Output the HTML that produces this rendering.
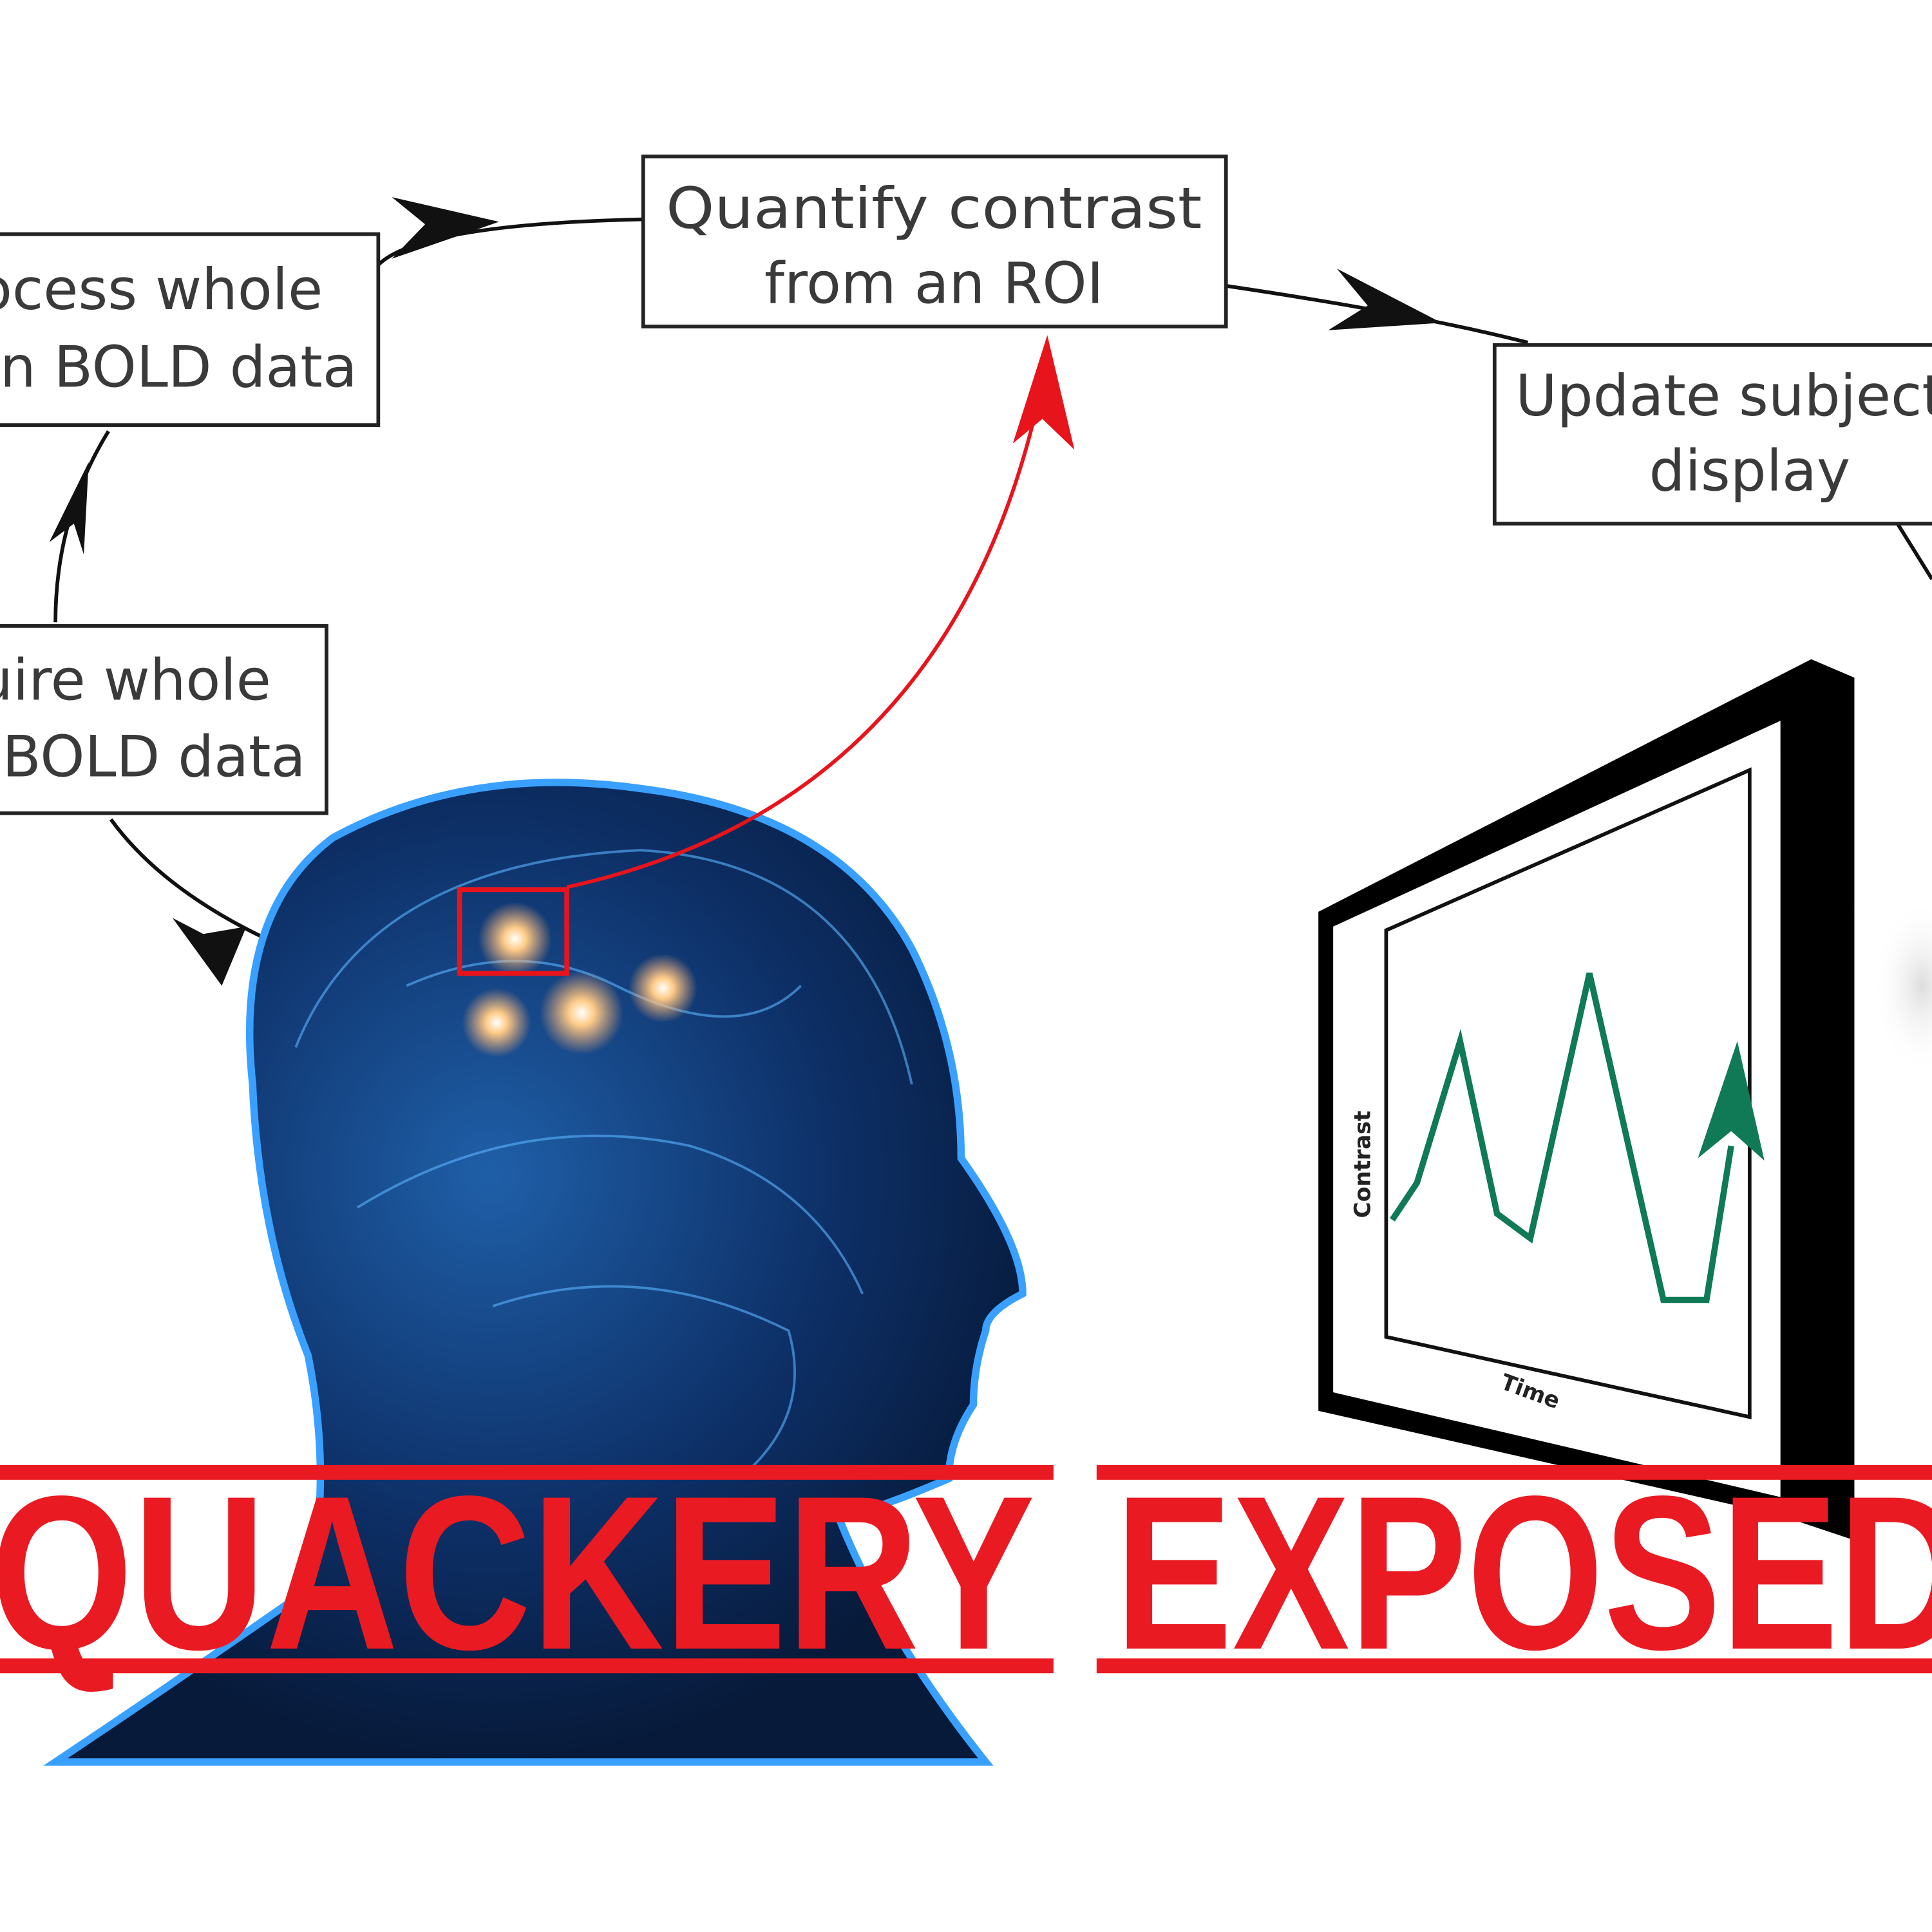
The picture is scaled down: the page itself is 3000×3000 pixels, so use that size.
<!DOCTYPE html>
<html><head><meta charset="utf-8"><style>
html,body{margin:0;padding:0;background:#fff;}
svg{display:block;}
text{font-family:"DejaVu Sans","Liberation Sans",sans-serif;}
</style></head><body>
<svg width="3000" height="3000" viewBox="0 0 1568 1568" xmlns="http://www.w3.org/2000/svg">
<defs>
<radialGradient id="hg" cx="0.45" cy="0.4" r="0.6">
<stop offset="0" stop-color="#1f5fa8"/><stop offset="0.6" stop-color="#0d2f66"/><stop offset="1" stop-color="#071a3a"/>
</radialGradient>
<radialGradient id="glow"><stop offset="0" stop-color="#fff"/><stop offset="0.3" stop-color="#ffcc88"/><stop offset="1" stop-color="#ffaa66" stop-opacity="0"/></radialGradient>
<radialGradient id="blob"><stop offset="0" stop-color="#ddd"/><stop offset="1" stop-color="#fff" stop-opacity="0"/></radialGradient>
</defs>
<rect width="1568" height="1568" fill="#fff"/>
<ellipse cx="1560" cy="800" rx="40" ry="70" fill="url(#blob)"/>

<!-- connectors -->
<g stroke="#111" stroke-width="3" fill="none">
<path d="M307,215 Q340,182 522,178"/>
<path d="M995,232 Q1150,255 1240,278"/>
<path d="M45,505 Q45,420 88,350"/>
<path d="M212,760 Q130,720 90,665"/>
<path d="M1540,425 L1568,470"/>
</g>
<g fill="#111">
<polygon points="405,180 318,160 345,182 318,210"/>
<polygon points="1170,262 1085,218 1110,248 1078,268"/>
<polygon points="72,375 40,440 60,425 68,450"/>
<polygon points="180,800 140,745 165,758 200,752"/>
</g>

<!-- boxes -->
<g fill="#fff" stroke="#222" stroke-width="3">
<rect x="-5" y="190" width="312" height="155"/>
<rect x="522" y="127" width="473" height="138"/>
<rect x="1213" y="280" width="370" height="145"/>
<rect x="-5" y="508" width="270" height="152"/>
</g>
<g fill="#3a3a3a" font-size="46">
<text x="758" y="185" text-anchor="middle" textLength="435" lengthAdjust="spacingAndGlyphs">Quantify contrast</text>
<text x="758" y="246" text-anchor="middle">from an ROI</text>
<text x="1230" y="337">Update subject</text>
<text x="1420" y="398" text-anchor="middle">display</text>
<text x="262" y="251" text-anchor="end">Process whole</text>
<text x="290" y="314" text-anchor="end">brain BOLD data</text>
<text x="220" y="568" text-anchor="end">Acquire whole</text>
<text x="248" y="630" text-anchor="end">brain BOLD data</text>
</g>
<rect x="-100" y="190" width="95" height="160" fill="#fff"/>
<rect x="-100" y="500" width="95" height="170" fill="#fff"/>

<!-- head -->
<path d="M205,880 Q190,740 270,680 Q380,620 520,640 Q680,660 740,770 Q780,850 780,940 Q830,1010 830,1050 Q800,1065 800,1080 Q790,1110 790,1140 Q770,1170 770,1200 Q700,1230 680,1230 Q720,1330 800,1430 L45,1430 Q150,1360 250,1290 Q270,1200 250,1100 Q210,1000 205,880 Z" fill="url(#hg)" stroke="#3aa0ff" stroke-width="6"/>
<g fill="none" stroke="#5ab4ff" stroke-width="2" opacity="0.6">
<path d="M240,850 Q300,700 520,690 Q700,700 740,880"/>
<path d="M290,980 Q420,900 560,930 Q660,960 700,1050"/>
<path d="M400,1060 Q520,1020 640,1080 Q660,1150 600,1200"/>
<path d="M330,800 Q420,760 500,800 Q600,850 650,800"/>
</g>
<circle cx="418" cy="762" r="30" fill="url(#glow)"/>
<circle cx="472" cy="822" r="34" fill="url(#glow)"/>
<circle cx="538" cy="802" r="28" fill="url(#glow)"/>
<circle cx="403" cy="830" r="28" fill="url(#glow)"/>
<rect x="373" y="722" width="87" height="68" fill="none" stroke="#e8141c" stroke-width="4"/>
<path d="M460,720 Q780,650 848,300" stroke="#e8141c" stroke-width="3" fill="none"/>
<polygon points="850,272 822,360 846,340 872,365" fill="#e8141c"/>

<!-- monitor -->
<polygon points="1070,740 1470,535 1505,550 1505,1250 1445,1230 1070,1145" fill="#000"/>
<polygon points="1082,752 1445,585 1445,1215 1082,1130" fill="#fff"/>
<polygon points="1125,755 1420,625 1420,1150 1125,1085" fill="#fff" stroke="#111" stroke-width="3"/>
<polyline points="1130,990 1150,960 1185,845 1215,985 1242,1005 1290,790 1350,1055 1385,1055 1405,930" fill="none" stroke="#0f7a55" stroke-width="5"/>
<polygon points="1410,845 1378,940 1405,918 1432,942" fill="#0f7a55"/>
<text x="1112" y="945" font-size="18" font-weight="bold" fill="#222" transform="rotate(-90 1112 945)" text-anchor="middle">Contrast</text>
<text x="1240" y="1135" font-size="18" font-weight="bold" fill="#222" transform="rotate(20 1240 1135)" text-anchor="middle">Time</text>

<!-- QUACKERY EXPOSED -->
<g fill="#ea1a22">
<rect x="0" y="1189" width="855" height="12"/>
<rect x="0" y="1346" width="855" height="12"/>
<rect x="890" y="1189" width="678" height="12"/>
<rect x="890" y="1346" width="678" height="12"/>
<text x="-8" y="1338" font-weight="bold" font-size="178" textLength="848" lengthAdjust="spacingAndGlyphs" style="font-family:'Liberation Sans',sans-serif">QUACKERY</text>
<text x="905" y="1338" font-weight="bold" font-size="178" textLength="690" lengthAdjust="spacingAndGlyphs" style="font-family:'Liberation Sans',sans-serif">EXPOSED</text>
</g>
</svg>
</body></html>
